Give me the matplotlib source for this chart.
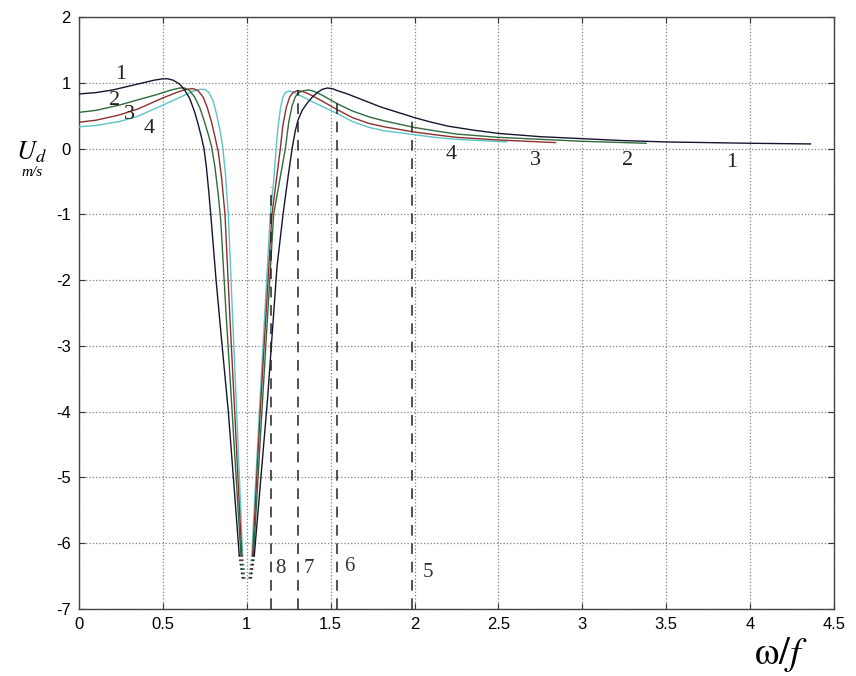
import matplotlib
matplotlib.use('Agg')
import matplotlib.pyplot as plt

# curve 1 (dark) .. curve 4 (cyan): left branch up to the dip, right branch after it
c1_left_x = [0, 0.1, 0.2, 0.3, 0.4, 0.45, 0.5, 0.53, 0.56, 0.6, 0.63, 0.66, 0.69, 0.71, 0.73, 0.745, 0.76,
             0.775, 0.79, 0.817, 0.853, 0.89, 0.92, 0.955]
c1_left_y = [0.83, 0.85, 0.89, 0.95, 1.01, 1.04, 1.06, 1.06, 1.04, 0.98, 0.89, 0.76, 0.55, 0.37, 0.17, 0.0, -0.3,
             -0.7, -1.15, -2.0, -3.0, -4.0, -5.0, -6.18]
c1_right_x = [1.045, 1.124, 1.18, 1.216, 1.245, 1.27, 1.29, 1.305, 1.33, 1.36, 1.39, 1.42, 1.45, 1.48, 1.51,
              1.54, 1.6, 1.66, 1.73, 1.8, 1.9, 2.0, 2.1, 2.2, 2.35, 2.5, 2.75, 3.0, 3.25, 3.5, 4.0, 4.36]
c1_right_y = [-6.18, -3.8, -1.8, -1.0, -0.45, 0.0, 0.28, 0.43, 0.58, 0.69, 0.78, 0.85, 0.90, 0.92, 0.91,
              0.88, 0.83, 0.77, 0.70, 0.63, 0.55, 0.47, 0.40, 0.34, 0.28, 0.23, 0.18, 0.15, 0.12, 0.10, 0.08, 0.07]

c2_left_x = [0, 0.1, 0.24, 0.35, 0.45, 0.5, 0.55, 0.6, 0.63, 0.66, 0.69, 0.72, 0.745, 0.77, 0.79, 0.81, 0.83,
             0.845, 0.874, 0.903, 0.934, 0.965]
c2_left_y = [0.55, 0.58, 0.66, 0.74, 0.81, 0.85, 0.89, 0.92, 0.92, 0.88, 0.78, 0.62, 0.43, 0.22, 0.03, -0.28, -0.7,
             -1.1, -2.4, -3.6, -4.9, -6.18]
c2_right_x = [1.04, 1.09, 1.16, 1.195, 1.23, 1.25, 1.27, 1.29, 1.31, 1.34, 1.37, 1.40, 1.45, 1.54, 1.63, 1.73,
              1.82, 1.91, 2.0, 2.12, 2.25, 2.5, 2.75, 3.0, 3.38]
c2_right_y = [-6.18, -4.0, -1.0, -0.5, 0.0, 0.4, 0.65, 0.79, 0.85, 0.88, 0.89, 0.87, 0.81, 0.68, 0.57, 0.48,
              0.42, 0.37, 0.32, 0.27, 0.22, 0.17, 0.14, 0.11, 0.08]

c3_left_x = [0, 0.1, 0.24, 0.35, 0.5, 0.6, 0.64, 0.68, 0.71, 0.74, 0.765, 0.79, 0.81, 0.83, 0.85, 0.87, 0.90,
             0.926, 0.947, 0.97]
c3_left_y = [0.40, 0.43, 0.51, 0.60, 0.77, 0.87, 0.90, 0.91, 0.88, 0.78, 0.62, 0.40, 0.18, -0.05, -0.45, -1.0,
             -2.6, -3.9, -5.0, -6.18]
c3_right_x = [1.035, 1.08, 1.15, 1.175, 1.20, 1.215, 1.235, 1.255, 1.275, 1.30, 1.33, 1.37, 1.45, 1.54, 1.63,
              1.73, 1.82, 1.91, 2.0, 2.12, 2.25, 2.5, 2.84]
c3_right_y = [-6.18, -4.0, -1.0, -0.5, 0.0, 0.35, 0.62, 0.78, 0.85, 0.88, 0.87, 0.83, 0.72, 0.59, 0.47,
              0.38, 0.33, 0.29, 0.25, 0.21, 0.17, 0.13, 0.09]

c4_left_x = [0, 0.1, 0.24, 0.35, 0.5, 0.62, 0.68, 0.72, 0.75, 0.775, 0.80, 0.82, 0.84, 0.857, 0.873, 0.89, 0.916,
             0.938, 0.956, 0.975]
c4_left_y = [0.33, 0.35, 0.41, 0.49, 0.66, 0.80, 0.87, 0.90, 0.90, 0.85, 0.72, 0.52, 0.28, 0.02, -0.4, -1.0, -2.6,
             -3.9, -5.0, -6.18]
c4_right_x = [1.03, 1.075, 1.14, 1.16, 1.175, 1.185, 1.2, 1.215, 1.23, 1.25, 1.27, 1.3, 1.4, 1.54, 1.63, 1.73,
              1.82, 1.91, 2.0, 2.12, 2.25, 2.55]
c4_right_y = [-6.18, -4.0, -1.0, -0.5, 0.0, 0.3, 0.6, 0.78, 0.85, 0.875, 0.865, 0.83, 0.70, 0.53, 0.41, 0.32,
              0.27, 0.24, 0.21, 0.17, 0.14, 0.10]

curve_colors = ['#151530', '#2f6a3c', '#8e2f2f', '#5cc4c4']

# dotted tails under the dip
tail_left_x = [[0.955, 0.975], [0.965, 0.982], [0.97, 0.986], [0.975, 0.99]]
tail_right_x = [[1.045, 1.025], [1.04, 1.02], [1.035, 1.015], [1.03, 1.01]]
tail_y = [-6.18, -6.55]

# vertical dashed lines 8, 7, 6, 5
vline_x = [1.145, 1.305, 1.54, 1.985]
vline_top = [-0.58, 0.89, 0.74, 0.47]
vline_names = ['8', '7', '6', '5']
vline_label_x = [1.2, 1.37, 1.61, 2.08]
vline_label_y = [-6.39, -6.39, -6.36, -6.45]

# curve number labels
num_names = ['1', '2', '3', '4', '4', '3', '2', '1']
num_x = [0.25, 0.21, 0.30, 0.42, 2.22, 2.72, 3.27, 3.89]
num_y = [1.13, 0.73, 0.52, 0.30, -0.09, -0.18, -0.18, -0.21]

x_ticks = [0, 0.5, 1, 1.5, 2, 2.5, 3, 3.5, 4, 4.5]
x_tick_labels = ['0', '0.5', '1', '1.5', '2', '2.5', '3', '3.5', '4', '4.5']
y_ticks = [-7, -6, -5, -4, -3, -2, -1, 0, 1, 2]

plt.rcParams['font.family'] = ['Liberation Sans', 'DejaVu Sans']
plt.rcParams['mathtext.fontset'] = 'stix'
plt.rcParams['axes.unicode_minus'] = False

fig = plt.figure(figsize=(8.56, 6.76), dpi=100)
ax = fig.add_axes([0.0923, 0.0991, 0.882, 0.8758])

lefts = [(c1_left_x, c1_left_y), (c2_left_x, c2_left_y), (c3_left_x, c3_left_y), (c4_left_x, c4_left_y)]
rights = [(c1_right_x, c1_right_y), (c2_right_x, c2_right_y), (c3_right_x, c3_right_y), (c4_right_x, c4_right_y)]
for i in range(3, -1, -1):
    col = curve_colors[i]
    ax.plot(lefts[i][0], lefts[i][1], color=col, lw=1.0, zorder=3)
    ax.plot(rights[i][0], rights[i][1], color=col, lw=1.0, zorder=3)
    ax.plot(tail_left_x[i], tail_y, color=col, lw=1.2, linestyle=':', zorder=3)
    ax.plot(tail_right_x[i], tail_y, color=col, lw=1.2, linestyle=':', zorder=3)

for x, top, name, lx, ly in zip(vline_x, vline_top, vline_names, vline_label_x, vline_label_y):
    ax.plot([x, x], [-7, top], color='#222222', lw=1.1, linestyle=(0, (7, 5)), zorder=4)
    ax.text(lx, ly, name, family='Liberation Serif', fontsize=15, color='#333333', ha='center', va='center')

for name, x, y in zip(num_names, num_x, num_y):
    ax.text(x, y, name, family='Liberation Serif', fontsize=16, color='#222222', ha='center', va='center')

ax.set_xlim(0, 4.5)
ax.set_ylim(-7, 2)
ax.set_xticks(x_ticks)
ax.set_xticklabels(x_tick_labels)
ax.set_yticks(y_ticks)
ax.tick_params(direction='in', length=4, width=0.8, top=True, right=True, labelsize=12, colors='#333333',
               labelcolor='black', pad=6)
ax.grid(True, linestyle=':', color='#808080', lw=0.9)
for sp in ax.spines.values():
    sp.set_color('#444444')
    sp.set_linewidth(1.0)

fig.text(0.037, 0.775, '$U_d$', fontsize=19, ha='center', va='center')
fig.text(0.037, 0.745, 'm/s', family='Liberation Serif', style='italic', fontsize=11, ha='center', va='center')
fig.text(0.912, 0.032, r'$\mathrm{\omega}/f$', fontsize=28, ha='center', va='center')

fig.savefig('out.png', dpi=100)
